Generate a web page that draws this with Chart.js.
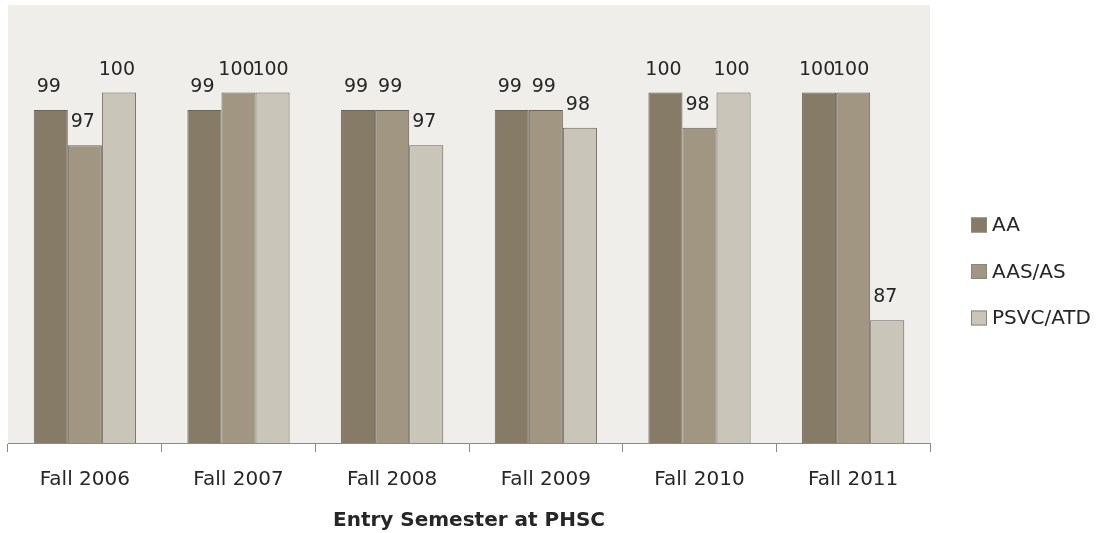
<!DOCTYPE html>
<html>
<head>
<meta charset="utf-8">
<script src="https://cdn.jsdelivr.net/npm/chart.js@4.4.1/dist/chart.umd.min.js"></script>
<style>
  html, body { margin: 0; padding: 0; background: #fff; }
  #wrap { width: 1106px; height: 533px; }
</style>
</head>
<body>
<div id="wrap"><canvas id="chart" width="1106" height="533"></canvas></div>
<script>
// valores
const semestres = ['Fall 2006', 'Fall 2007', 'Fall 2008', 'Fall 2009', 'Fall 2010', 'Fall 2011'];
const aa = [99, 99, 99, 99, 100, 100];
const aasAs = [97, 100, 99, 99, 98, 100];
const psvcAtd = [100, 100, 97, 98, 100, 87];
const nomes = ['AA', 'AAS/AS', 'PSVC/ATD'];
const cores = ['#857b67', '#a19682', '#c9c5b9'];

const fonte = 'DejaVu Sans';

// fundo cinza da área do gráfico
const fundoArea = {
    id: 'fundoArea',
    beforeDatasetsDraw(chart) {
        const { ctx, chartArea: a } = chart;
        ctx.save();
        ctx.fillStyle = '#efeeeb';
        ctx.fillRect(a.left, a.top, a.right - a.left, a.bottom - a.top);
        ctx.restore();
    }
};

// rótulos de valor acima das barras
const rotulos = {
    id: 'rotulos',
    afterDatasetsDraw(chart) {
        const ctx = chart.ctx;
        ctx.save();
        ctx.font = '19px "' + fonte + '"';
        ctx.fillStyle = '#262626';
        ctx.textAlign = 'center';
        ctx.textBaseline = 'alphabetic';
        chart.data.datasets.forEach((ds, i) => {
            chart.getDatasetMeta(i).data.forEach((bar, j) => {
                ctx.fillText(ds.data[j], bar.x - 2, bar.y - 18);
            });
        });
        ctx.restore();
    }
};

// legenda à direita
const legenda = {
    id: 'legenda',
    afterDraw(chart) {
        const ctx = chart.ctx;
        const x = 971, y0 = 225, passo = 46.5;
        ctx.save();
        ctx.font = '20px "' + fonte + '"';
        ctx.textBaseline = 'middle';
        chart.data.datasets.forEach((ds, i) => {
            const y = y0 + i * passo;
            ctx.fillStyle = ds.backgroundColor;
            ctx.fillRect(x, y - 7.5, 16, 15);
            ctx.strokeStyle = '#8a867c';
            ctx.lineWidth = 1;
            ctx.strokeRect(x + 0.5, y - 7, 15, 14);
            ctx.fillStyle = '#262626';
            ctx.fillText(ds.label, x + 21, y + 1);
        });
        ctx.restore();
    }
};

const series = [aa, aasAs, psvcAtd];

new Chart(document.getElementById('chart').getContext('2d'), {
    type: 'bar',
    data: {
        labels: semestres,
        datasets: series.map((dados, i) => ({
            label: nomes[i],
            data: dados,
            backgroundColor: cores[i],
            borderColor: '#68635a',
            borderWidth: 1,
            categoryPercentage: 0.665,
            barPercentage: 1.0
        }))
    },
    options: {
        responsive: false,
        animation: false,
        layout: { padding: { left: 8, right: 176, top: 5, bottom: 0 } },
        scales: {
            x: {
                grid: { display: true, drawOnChartArea: false, tickLength: 9, color: '#8a8a8a', offset: true },
                border: { display: true, color: '#8a8a8a', width: 1 },
                ticks: { color: '#262626', padding: 16, font: { family: fonte, size: 20 } },
                title: {
                    display: true,
                    text: 'Entry Semester at PHSC',
                    color: '#262626',
                    font: { family: fonte, size: 20, weight: 'bold' },
                    padding: { top: 1, bottom: 0 }
                }
            },
            y: {
                display: false,
                min: 80,
                max: 105
            }
        },
        plugins: {
            legend: { display: false },
            tooltip: { enabled: false }
        }
    },
    plugins: [fundoArea, rotulos, legenda]
});
</script>
</body>
</html>
